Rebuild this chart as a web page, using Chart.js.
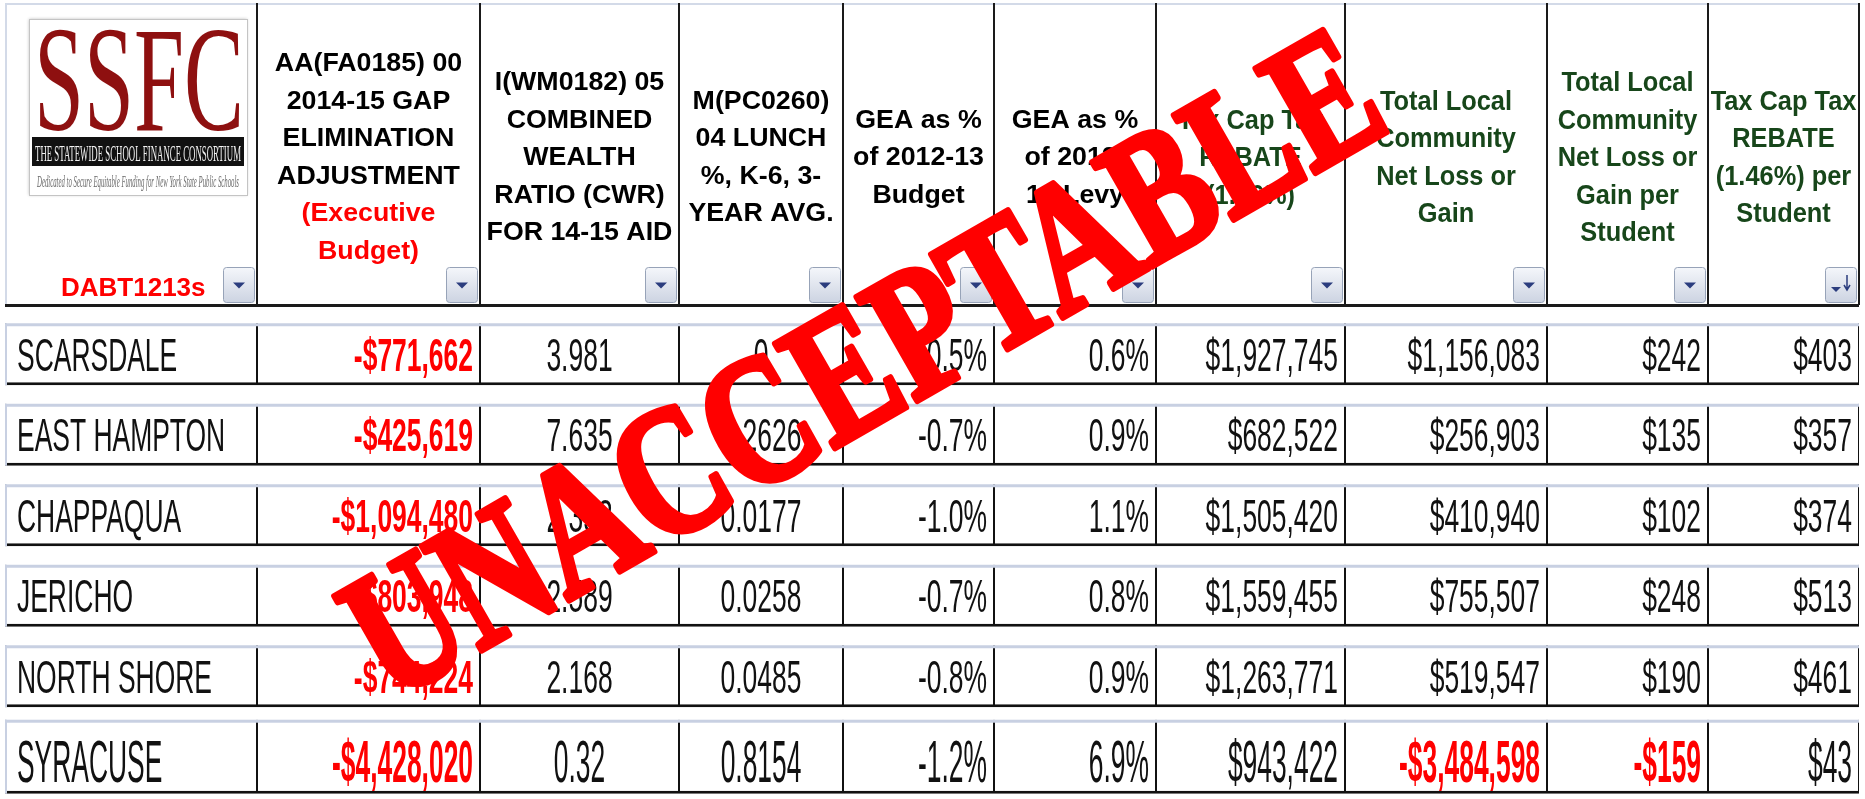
<!DOCTYPE html>
<html>
<head>
<meta charset="utf-8">
<script src="https://cdn.jsdelivr.net/npm/chart.js@4.4.1/dist/chart.umd.min.js"></script>
<style>
  html, body { margin: 0; padding: 0; background: #fff; }
  #wrap { position: relative; width: 1865px; height: 799px; }
</style>
</head>
<body>
<div id="wrap"><canvas id="tableChart"></canvas></div>
<script>
// ---- data ----
const districts = ["SCARSDALE", "EAST HAMPTON", "CHAPPAQUA", "JERICHO", "NORTH SHORE", "SYRACUSE"];
const gapAdjustment = [-771662, -425619, -1094480, -803948, -744224, -4428020];
const wealthRatio = [3.981, 7.635, 2.353, 2.589, 2.168, 0.32];
const lunchPct = [0, 0.2626, 0.0177, 0.0258, 0.0485, 0.8154];
const geaPctBudget = [-0.5, -0.7, -1.0, -0.7, -0.8, -1.2];
const geaPctLevy = [0.6, 0.9, 1.1, 0.8, 0.9, 6.9];
const taxCapRebate = [1927745, 682522, 1505420, 1559455, 1263771, 943422];
const netLossGain = [1156083, 256903, 410940, 755507, 519547, -3484598];
const netPerStudent = [242, 135, 102, 248, 190, -159];
const rebatePerStudent = [403, 357, 374, 513, 461, 43];

const headerLines = [
    [],
    ["AA(FA0185) 00", "2014-15 GAP", "ELIMINATION", "ADJUSTMENT", "(Executive", "Budget)"],
    ["I(WM0182) 05", "COMBINED", "WEALTH", "RATIO (CWR)", "FOR 14-15 AID"],
    ["M(PC0260)", "04 LUNCH", "%, K-6, 3-", "YEAR AVG."],
    ["GEA as %", "of 2012-13", "Budget"],
    ["GEA as %", "of 2012-", "13 Levy"],
    ["Tax Cap Tax", "REBATE", "(1.46%)"],
    ["Total Local", "Community", "Net Loss or", "Gain"],
    ["Total Local", "Community", "Net Loss or", "Gain per", "Student"],
    ["Tax Cap Tax", "REBATE", "(1.46%) per", "Student"]
];
const sheetName = "DABT1213s";
const stamp = "UNACCEPTABLE";

// ---- layout (column edges in sheet units) ----
const colEdges = [5, 257, 480, 679, 843, 994, 1156, 1345, 1547, 1708, 1859];
const HEADER_TOP = 3, HEADER_BOTTOM = 305;

const money = v => (v < 0 ? "-$" : "$") + Math.abs(v).toLocaleString("en-US");
const pct = v => v.toFixed(1) + "%";

const cellText = [
    i => districts[i],
    i => money(gapAdjustment[i]),
    i => String(wealthRatio[i]),
    i => String(lunchPct[i]),
    i => pct(geaPctBudget[i]),
    i => pct(geaPctLevy[i]),
    i => money(taxCapRebate[i]),
    i => money(netLossGain[i]),
    i => money(netPerStudent[i]),
    i => money(rebatePerStudent[i])
];
const cellAlign = ["left", "right", "center", "center", "right", "right", "right", "right", "right", "right"];
const cellRed = [
    i => false, i => true, i => false, i => false, i => false, i => false, i => false,
    i => netLossGain[i] < 0, i => netPerStudent[i] < 0, i => false
];

function cellDataset(j, lastRow) {
    return {
        data: districts.map((d, i) => ((i === districts.length - 1) === lastRow) ? [colEdges[j], colEdges[j + 1]] : null),
        backgroundColor: "#ffffff",
        borderColor: "#111111",
        borderWidth: { top: 0, bottom: 3, left: 1, right: 1 },
        borderSkipped: false,
        grouped: false,
        categoryPercentage: 1,
        barPercentage: lastRow ? 0.92 : 0.77
    };
}

const datasets = [];
for (let j = 0; j < colEdges.length - 1; j++) {
    datasets.push(cellDataset(j, false));
    datasets.push(cellDataset(j, true));
}

function drawScaledText(ctx, text, x, y, align, font, color, sx) {
    ctx.save();
    ctx.translate(x, y);
    ctx.scale(sx, 1);
    ctx.font = font;
    ctx.fillStyle = color;
    ctx.textAlign = align;
    ctx.textBaseline = "alphabetic";
    ctx.fillText(text, 0, 0);
    ctx.restore();
}

function fitText(ctx, text, x, y, width, font, color) {
    ctx.save();
    ctx.font = font;
    const w = ctx.measureText(text).width;
    ctx.translate(x, y);
    ctx.scale(width / w, 1);
    ctx.fillStyle = color;
    ctx.textAlign = "left";
    ctx.textBaseline = "alphabetic";
    ctx.fillText(text, 0, 0);
    ctx.restore();
}

function drawDropdown(ctx, right, sortIcon) {
    const w = 31, h = 35, bx = right - w - 3, by = HEADER_BOTTOM - h - 3;
    const g = ctx.createLinearGradient(0, by, 0, by + h);
    g.addColorStop(0, "#f5f7fb");
    g.addColorStop(1, "#cdd4e2");
    ctx.fillStyle = g;
    ctx.strokeStyle = "#97a3b8";
    ctx.lineWidth = 1;
    ctx.beginPath();
    ctx.roundRect(bx + 0.5, by + 0.5, w, h, 3);
    ctx.fill();
    ctx.stroke();
    ctx.fillStyle = "#2b3d7e";
    ctx.beginPath();
    if (sortIcon) {
        const cx = bx + 11, cy = by + 22;
        ctx.moveTo(cx - 5, cy - 2); ctx.lineTo(cx + 5, cy - 2); ctx.lineTo(cx, cy + 3);
        ctx.fill();
        ctx.strokeStyle = "#2b3d7e";
        ctx.lineWidth = 1.5;
        ctx.beginPath();
        ctx.moveTo(bx + 22, by + 8); ctx.lineTo(bx + 22, by + 22);
        ctx.moveTo(bx + 19, by + 18); ctx.lineTo(bx + 22, by + 23); ctx.lineTo(bx + 25, by + 18);
        ctx.stroke();
    } else {
        const cx = bx + w / 2 + 0.5, cy = by + h / 2 + 1;
        ctx.moveTo(cx - 6, cy - 3); ctx.lineTo(cx + 6, cy - 3); ctx.lineTo(cx, cy + 3);
        ctx.fill();
    }
}

function drawLogo(ctx, x0) {
    const lx = x0 + 24, ly = 19, lw = 218, lh = 176;
    ctx.save();
    ctx.fillStyle = "#ffffff";
    ctx.shadowColor = "rgba(0,0,0,0.25)";
    ctx.shadowBlur = 3;
    ctx.fillRect(lx, ly, lw, lh);
    ctx.restore();
    ctx.strokeStyle = "#c4c4c4";
    ctx.lineWidth = 1;
    ctx.strokeRect(lx + 0.5, ly + 0.5, lw, lh);
    fitText(ctx, "SSFC", lx + 5, ly + 111, 210, "150px 'Liberation Serif'", "#8e1010");
    ctx.fillStyle = "#111111";
    ctx.fillRect(lx + 3, ly + 118, 212, 29);
    fitText(ctx, "THE STATEWIDE SCHOOL FINANCE CONSORTIUM", lx + 6, ly + 142, 206, "24px 'Liberation Serif'", "#f2f2f2");
    fitText(ctx, "Dedicated to Secure Equitable Funding for New York State Public Schools", lx + 8, ly + 168, 202, "italic 16px 'Liberation Serif'", "#6a6a6a");
}

const tablePlugin = {
    id: "tableDecor",
    beforeDatasetsDraw(chart) {
        const ctx = chart.ctx;
        const xs = chart.scales.x;
        const xl = xs.getPixelForValue(colEdges[0]);
        const xr = xs.getPixelForValue(colEdges[colEdges.length - 1]);
        ctx.save();
        // header frame
        ctx.fillStyle = "#d3dae8";
        ctx.fillRect(xl, HEADER_TOP, xr - xl, 2);
        ctx.fillRect(xl, HEADER_TOP, 2, HEADER_BOTTOM - HEADER_TOP);
        ctx.fillStyle = "#1a1a1a";
        for (let j = 1; j < colEdges.length; j++) {
            const x = xs.getPixelForValue(colEdges[j]);
            ctx.fillRect(x - 1, HEADER_TOP, 2, HEADER_BOTTOM - HEADER_TOP);
        }
        ctx.fillRect(xl, HEADER_BOTTOM - 1, xr - xl, 3);

        drawLogo(ctx, xl);

        // header texts
        const lineH = 37.5, mid = 156;
        headerLines.forEach((lines, j) => {
            if (!lines.length) return;
            const cx = (xs.getPixelForValue(colEdges[j]) + xs.getPixelForValue(colEdges[j + 1])) / 2;
            const green = j >= 6;
            lines.forEach((t, k) => {
                const y = mid + (k - (lines.length - 1) / 2) * lineH;
                let color = green ? "#17461a" : "#000000";
                if (j === 1 && k >= 4) color = "#ff0000";
                const font = green ? "bold 27px 'Liberation Sans'" : "bold 25px 'Liberation Sans'";
                drawScaledText(ctx, t, cx, y + (green ? 10 : 9), "center", font, color, green ? 0.94 : 1.07);
            });
        });
        drawScaledText(ctx, sheetName, xl + 56, 296, "left", "bold 26px 'Liberation Sans'", "#ff0000", 1.0);
        for (let j = 0; j < colEdges.length - 1; j++) {
            drawDropdown(ctx, xs.getPixelForValue(colEdges[j + 1]), j === colEdges.length - 2);
        }
        ctx.restore();
    },
    afterDatasetsDraw(chart) {
        const ctx = chart.ctx;
        ctx.save();
        chart.data.datasets.forEach((ds, k) => {
            const j = Math.floor(k / 2);
            const meta = chart.getDatasetMeta(k);
            meta.data.forEach((el, i) => {
                if (ds.data[i] == null) return;
                const left = Math.min(el.x, el.base), right = Math.max(el.x, el.base);
                const top = el.y - el.height / 2;
                // light top edge of each row cell
                ctx.fillStyle = "#c8d0e2";
                ctx.fillRect(left, top, right - left, 3);
                if (j === 0) ctx.fillRect(left, top, 2, el.height);
                const last = i === districts.length - 1;
                const size = last ? 60 : 46;
                const sx = last ? 0.44 : 0.575;
                const red = cellRed[j](i);
                const font = (red ? "bold " : "") + size + "px 'Liberation Sans'";
                const align = cellAlign[j];
                const x = align === "left" ? left + 12 : align === "right" ? right - 7 : (left + right) / 2;
                const y = el.y + 0.716 * size / 2 + (last ? 4 : 0);
                drawScaledText(ctx, cellText[j](i), x, y, align, font, red ? "#ff0000" : "#111111", sx);
            });
        });
        ctx.restore();
    },
    afterDraw(chart) {
        // the red stamp across the table
        const ctx = chart.ctx;
        ctx.save();
        ctx.translate(862, 362);
        ctx.rotate(-29.8 * Math.PI / 180);
        ctx.scale(1, 1.3);
        ctx.font = "bold 141px 'Liberation Serif'";
        ctx.fillStyle = "#ff0000";
        ctx.strokeStyle = "#ff0000";
        ctx.lineWidth = 5;
        ctx.lineJoin = "round";
        ctx.textAlign = "center";
        ctx.textBaseline = "alphabetic";
        ctx.strokeText(stamp, 0, 47);
        ctx.fillText(stamp, 0, 47);
        ctx.restore();
    }
};

new Chart(document.getElementById("tableChart"), {
    type: "bar",
    data: { labels: districts, datasets: datasets },
    options: {
        indexAxis: "y",
        responsive: true,
        maintainAspectRatio: false,
        animation: false,
        layout: { padding: { top: 314, bottom: 2, left: 0, right: 0 } },
        plugins: { legend: { display: false }, tooltip: { enabled: false } },
        scales: {
            x: { type: "linear", min: 0, max: 1865, display: false },
            y: { type: "category", display: false, offset: true }
        }
    },
    plugins: [tablePlugin]
});
</script>
</body>
</html>
